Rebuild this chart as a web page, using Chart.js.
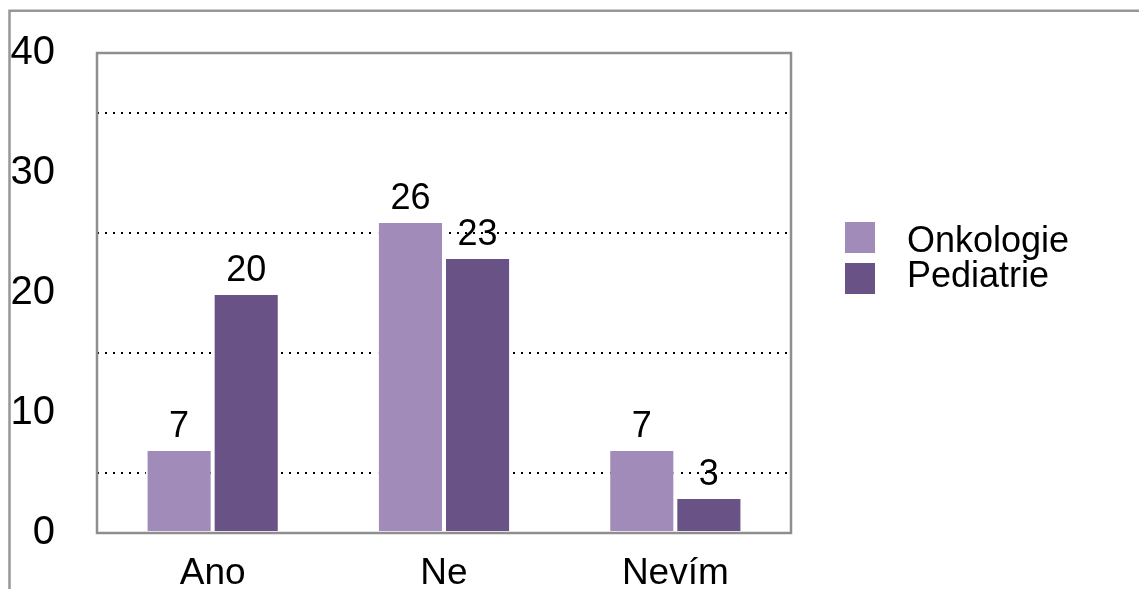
<!DOCTYPE html>
<html>
<head>
<meta charset="utf-8">
<script src="https://cdn.jsdelivr.net/npm/chart.js@4/dist/chart.umd.min.js"></script>
<style>
  html, body { margin: 0; padding: 0; background: #ffffff; }
  #wrap { position: relative; width: 1139px; height: 589px; }
</style>
</head>
<body>
<div id="wrap"><canvas id="chart" width="1139" height="589"></canvas></div>
<script>
// Survey answers by department
const categories = ['Ano', 'Ne', 'Nevím'];
const onkologie = [7, 26, 7];
const pediatrie = [20, 23, 3];
const seriesNames = ['Onkologie', 'Pediatrie'];
const seriesColors = ['#A18BB9', '#685286'];
const yTickValues = [0, 10, 20, 30, 40];
const gridValues = [5, 15, 25, 35];

const FONT = "'Liberation Sans', Arial, Helvetica, sans-serif";
Chart.defaults.font.family = FONT;
Chart.defaults.color = '#000000';

// Thin gray frame along the top and left edge of the canvas
const framePlugin = {
  id: 'frame',
  beforeDraw(chart) {
    const ctx = chart.ctx;
    ctx.save();
    ctx.strokeStyle = '#979797';
    ctx.lineWidth = 2.5;
    ctx.beginPath();
    ctx.moveTo(9.5, chart.height);
    ctx.lineTo(9.5, 10.8);
    ctx.lineTo(chart.width, 10.8);
    ctx.stroke();
    ctx.restore();
  }
};

// Gray box around the plotting area
const plotBorderPlugin = {
  id: 'plotBorder',
  afterDatasetsDraw(chart) {
    const a = chart.chartArea;
    const ctx = chart.ctx;
    ctx.save();
    ctx.strokeStyle = '#8e8e8e';
    ctx.lineWidth = 2.5;
    ctx.strokeRect(a.left, a.top, a.right - a.left, a.bottom - a.top);
    ctx.restore();
  }
};

// Value printed above each bar
const valueLabelPlugin = {
  id: 'valueLabels',
  afterDatasetsDraw(chart) {
    const ctx = chart.ctx;
    const yScale = chart.scales.y;
    ctx.save();
    ctx.font = '36px ' + FONT;
    ctx.fillStyle = '#000000';
    ctx.textAlign = 'center';
    ctx.textBaseline = 'middle';
    chart.data.datasets.forEach((ds, di) => {
      const meta = chart.getDatasetMeta(di);
      meta.data.forEach((bar, i) => {
        const v = ds.data[i];
        const top = yScale.getPixelForValue(v);
        ctx.fillText(String(v), bar.x, top - 22);
      });
    });
    ctx.restore();
  }
};

// Legend on the right: colour square followed by the series name
const sideLegendPlugin = {
  id: 'sideLegend',
  afterDraw(chart) {
    const ctx = chart.ctx;
    const boxX = 845, boxSize = 31;
    const boxTops = [222, 263];
    const textBaselines = [252, 287];
    ctx.save();
    ctx.font = '36px ' + FONT;
    ctx.textAlign = 'left';
    ctx.textBaseline = 'alphabetic';
    chart.data.datasets.forEach((ds, i) => {
      ctx.fillStyle = ds.backgroundColor;
      ctx.fillRect(boxX, boxTops[i], boxSize - 1, boxSize);
      ctx.fillStyle = '#000000';
      ctx.fillText(ds.label, 907, textBaselines[i]);
    });
    ctx.restore();
  }
};

const datasets = [onkologie, pediatrie].map((values, i) => ({
  label: seriesNames[i],
  data: values,
  backgroundColor: seriesColors[i],
  borderColor: '#ffffff',
  borderWidth: 2,
  borderSkipped: false,
  barPercentage: 1.0,
  categoryPercentage: 0.58
}));

new Chart(document.getElementById('chart'), {
  type: 'bar',
  data: { labels: categories, datasets: datasets },
  options: {
    responsive: false,
    animation: false,
    layout: { padding: { top: 53, right: 348, bottom: 0, left: 0 } },
    plugins: {
      legend: { display: false },
      tooltip: { enabled: false }
    },
    scales: {
      x: {
        grid: { display: false },
        border: { display: false },
        ticks: { font: { size: 37 }, color: '#000000', padding: 11 },
        afterFit(scale) { scale.height = 56; }
      },
      y: {
        min: 0,
        max: 40,
        afterBuildTicks(scale) { scale.ticks = yTickValues.map(v => ({ value: v })); },
        grid: { display: false, drawTicks: false },
        border: { display: false },
        ticks: { font: { size: 40 }, color: '#000000', padding: 42 },
        afterFit(scale) {
          scale.width = 97;
          scale.paddingTop = 0;
          scale.paddingBottom = 0;
        }
      },
      g: {
        type: 'linear',
        position: 'left',
        min: 0,
        max: 40,
        afterBuildTicks(scale) { scale.ticks = gridValues.map(v => ({ value: v })); },
        ticks: { display: false },
        grid: { color: '#000000', lineWidth: 2, drawTicks: false },
        border: { display: false, dash: [2, 6] },
        afterFit(scale) {
          scale.width = 0;
          scale.paddingTop = 0;
          scale.paddingBottom = 0;
        }
      }
    }
  },
  plugins: [framePlugin, plotBorderPlugin, valueLabelPlugin, sideLegendPlugin]
});
</script>
</body>
</html>
